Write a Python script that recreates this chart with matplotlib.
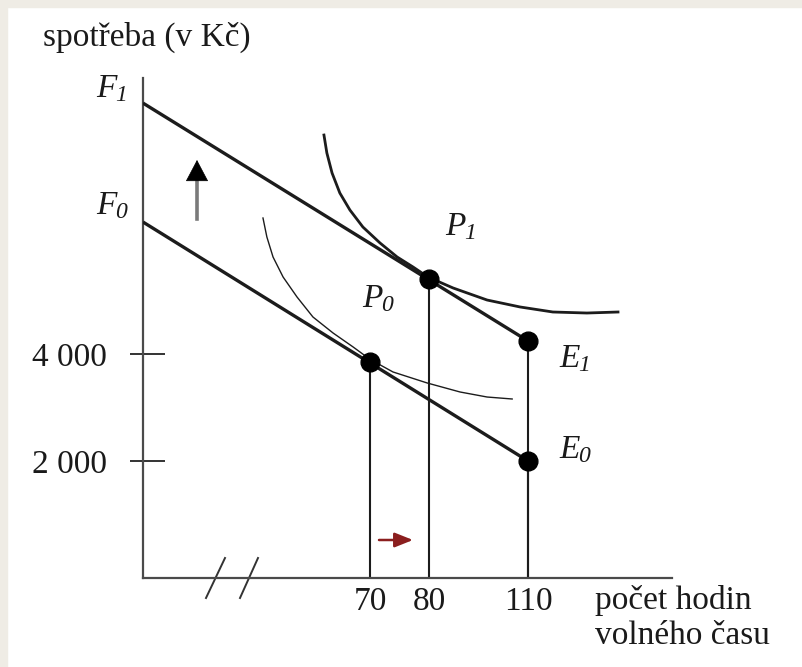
import numpy as np
import matplotlib
matplotlib.use("Agg")
import matplotlib.pyplot as plt
from matplotlib.patches import Rectangle, FancyArrowPatch
from matplotlib.lines import Line2D
from matplotlib.ticker import FixedLocator, NullLocator, FixedFormatter

plt.rcParams['font.family'] = ['Liberation Serif', 'DejaVu Serif']

# ---------------- data ----------------
x_ticks = [70, 80, 110]
x_tick_labels = ['70', '80', '110']
y_ticks = [2000, 4000]
y_tick_labels = ['2 000', '4 000']

# budget lines: intercept on consumption axis (F) and endowment point (E)
budget_hours = [0, 110]
budget0_cons = [6467, 2000]   # F0 -> E0
budget1_cons = [8690, 4243]   # F1 -> E1

# optimum points P0, P1 and endowment points E1, E0
points_hours = [70, 80, 110, 110]
points_cons = [3850, 5400, 4243, 2000]

# indifference curves
ic1_hours = [55.8, 56.7, 58.3, 60.7, 63.8, 67.8, 71.7, 74.6, 77.3, 79.8, 87.3, 97.6, 107.6, 117.6, 128.0, 137.5]
ic1_cons = [8093, 7757, 7383, 7009, 6692, 6374, 6075, 5813, 5626, 5440, 5234, 5009, 4879, 4785, 4766, 4785]
ic0_hours = [37.0, 38.2, 40.1, 43.2, 47.5, 52.4, 58.6, 64.8, 70.0, 73.9, 79.7, 89.4, 97.6, 105.2]
ic0_cons = [6542, 6187, 5813, 5439, 5065, 4692, 4393, 4131, 3900, 3664, 3458, 3290, 3196, 3159]

# ---------------- figure ----------------
W, H = 803, 667
fig = plt.figure(figsize=(W / 100, H / 100), dpi=100, facecolor='white')
# slide-like beige border on top and left
fig.patches.append(Rectangle((0, 1 - 7 / H), 1, 7 / H, transform=fig.transFigure,
                             color='#efece5', zorder=0))
fig.patches.append(Rectangle((0, 0), 7 / W, 1, transform=fig.transFigure,
                             color='#efece5', zorder=0))

ax_l, ax_r, ax_t, ax_b = 143, 672, 78, 578
ax = fig.add_axes([ax_l / W, 1 - ax_b / H, (ax_r - ax_l) / W, (ax_b - ax_t) / H])
ax.set_facecolor('none')

# schematic (not-to-scale) hour axis
H_ANCH = np.array([-1000, 0, 70, 80, 110, 154, 1000], dtype=float)
P_ANCH = np.array([-3243, 0, 227, 286, 385, 529, 3290], dtype=float)


def fwd(h):
    return np.interp(h, H_ANCH, P_ANCH)


def inv(p):
    return np.interp(p, P_ANCH, H_ANCH)


ax.set_xscale('function', functions=(fwd, inv))
ax.set_xlim(0, 154)
ax.set_ylim(-187, 9159)

line_col = '#1c1c1c'
ax.plot(budget_hours, budget1_cons, color=line_col, lw=2.4, solid_capstyle='butt', zorder=3)
ax.plot(budget_hours, budget0_cons, color=line_col, lw=2.4, solid_capstyle='butt', zorder=3)
ax.plot(ic1_hours, ic1_cons, color=line_col, lw=2.0, zorder=3, solid_joinstyle='round')
ax.plot(ic0_hours, ic0_cons, color=line_col, lw=1.0, zorder=3, solid_joinstyle='round')

ybot = ax.get_ylim()[0]
ax.vlines(points_hours, ybot, points_cons, color=line_col, lw=1.5, zorder=2)
ax.plot(points_hours, points_cons, 'o', color='black', ms=13.5, zorder=4)

# spines / ticks
for s in ['top', 'right']:
    ax.spines[s].set_visible(False)
for s in ['left', 'bottom']:
    ax.spines[s].set_color('#4a4a4a')
    ax.spines[s].set_linewidth(1.6)

ax.xaxis.set_major_locator(FixedLocator(x_ticks))
ax.xaxis.set_major_formatter(FixedFormatter(x_tick_labels))
ax.xaxis.set_minor_locator(NullLocator())
ax.tick_params(axis='x', length=0, pad=6, labelsize=24, labelcolor='#1a1a1a')

ax.yaxis.remove_overlapping_locs = False
ax.yaxis.set_major_locator(FixedLocator(y_ticks))
ax.yaxis.set_major_formatter(FixedFormatter(y_tick_labels))
ax.yaxis.set_minor_locator(FixedLocator(y_ticks))
ax.tick_params(axis='y', which='major', direction='in', length=16, width=1.4,
               color='#333333', pad=26, labelsize=24, labelcolor='#1a1a1a')
ax.tick_params(axis='y', which='minor', direction='out', length=9.5, width=1.4,
               color='#333333')

# axis break marks
for x0, x1 in [(206, 225), (240, 258)]:
    ax.plot([(x0 - ax_l) / (ax_r - ax_l), (x1 - ax_l) / (ax_r - ax_l)],
            [(ax_b - 598) / (ax_b - ax_t), (ax_b - 558) / (ax_b - ax_t)],
            transform=ax.transAxes, color='#333333', lw=1.4, clip_on=False)


def fx(px):
    return px / W


def fy(py):
    return 1 - py / H


# upward arrow: grey shaft, black head
fig.lines.append(Line2D([fx(197), fx(197)], [fy(219), fy(176)], transform=fig.transFigure,
                        color='#7a7a7a', lw=2.6, zorder=5))
fig.patches.append(FancyArrowPatch((fx(197), fy(180)), (fx(197), fy(160)), transform=fig.transFigure,
                                   arrowstyle='-|>,head_length=0.72,head_width=0.38', mutation_scale=20,
                                   color='black', lw=0.5, shrinkA=0, shrinkB=0, zorder=6))
# rightward arrow (dark red)
fig.patches.append(FancyArrowPatch((fx(379), fy(540)), (fx(413), fy(540)), transform=fig.transFigure,
                                   arrowstyle='-|>,head_length=0.65,head_width=0.26', mutation_scale=17,
                                   color='#8b1e1e', lw=1.8, shrinkA=0, shrinkB=0, zorder=5))

# texts
tc = '#1a1a1a'
fig.text(fx(43), fy(37), 'spotřeba (v Kč)', ha='left', va='center', fontsize=24, color=tc)
fig.text(fx(595), fy(601), 'počet hodin', ha='left', va='center', fontsize=24, color=tc)
fig.text(fx(595), fy(636), 'volného času', ha='left', va='center', fontsize=24, color=tc)

renderer = fig.canvas.get_renderer()


def sublabel(px, base_py, letter, sub):
    t = fig.text(fx(px), fy(base_py), letter, ha='left', va='baseline', fontsize=24,
                 style='italic', color=tc)
    bb = t.get_window_extent(renderer=renderer)
    x_right = bb.x1 / fig.dpi * 100  # pixels from left
    fig.text(fx(x_right - 1), fy(base_py + 4), sub, ha='left', va='baseline', fontsize=17,
             style='italic', color=tc)


sublabel(96, 97, 'F', '1')
sublabel(96, 214, 'F', '0')
sublabel(445, 235, 'P', '1')
sublabel(362, 307, 'P', '0')
sublabel(559, 367, 'E', '1')
sublabel(559, 458, 'E', '0')

fig.savefig('out.png', dpi=100, facecolor='white')
